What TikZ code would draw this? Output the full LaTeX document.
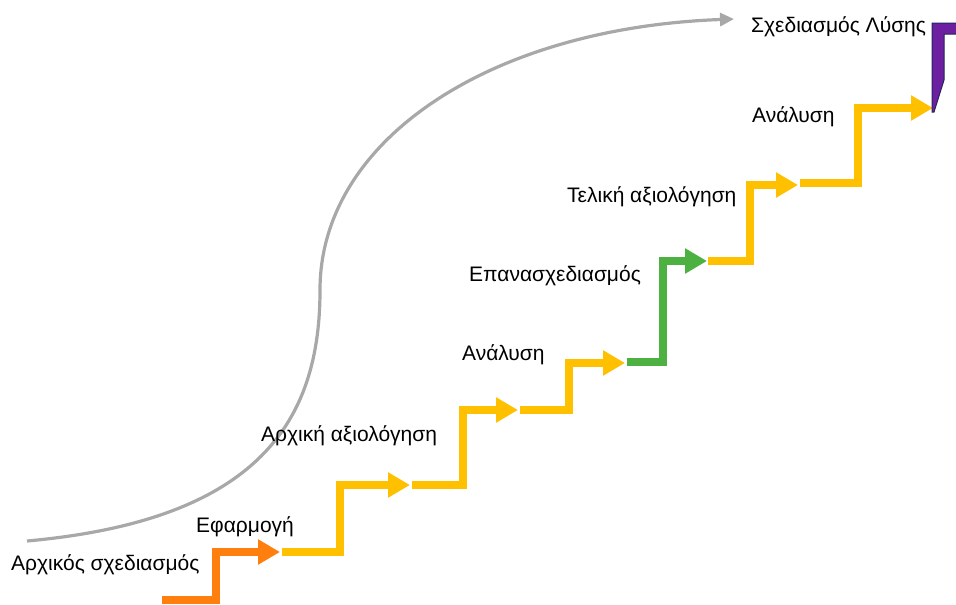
\documentclass[tikz,border=0pt]{standalone}
\usepackage{fontspec}
\setmainfont{Liberation Sans}
\usetikzlibrary{arrows.meta}
\definecolor{stepOrange}{HTML}{FF7F0E}
\definecolor{stepYellow}{HTML}{FFC000}
\definecolor{stepGreen}{HTML}{4CB140}
\definecolor{stepPurple}{HTML}{6C1FA0}
\definecolor{purpleEdge}{HTML}{26245E}
\definecolor{curveGray}{HTML}{A8A8A8}
\tikzset{
  stair/.style={line width=8.5pt, -{Triangle[length=22pt,width=24pt]}},
  label/.style={anchor=base west, inner sep=0pt, font=\fontsize{21pt}{25pt}\selectfont},
}
\begin{document}
\begin{tikzpicture}[x=1pt,y=-1pt]
\useasboundingbox (0,0) rectangle (956,605);

% joints between consecutive steps (start of a step, its corner, its tip)
\coordinate (p0) at (162,600);
\coordinate (c1) at (216,552); \coordinate (t1) at (280,552);
\coordinate (p1) at (282,552);
\coordinate (c2) at (340,485); \coordinate (t2) at (410,485);
\coordinate (p2) at (412,485);
\coordinate (c3) at (463,410); \coordinate (t3) at (518,410);
\coordinate (p3) at (520,410);
\coordinate (c4) at (569,363); \coordinate (t4) at (625,363);
\coordinate (p4) at (627,362);
\coordinate (c5) at (663,261); \coordinate (t5) at (707,261);
\coordinate (p5) at (708,261);
\coordinate (c6) at (750,185); \coordinate (t6) at (798,185);
\coordinate (p6) at (800,183);
\coordinate (c7) at (858,108); \coordinate (t7) at (933,108);

% staircase
\draw[stair, stepOrange] (p0) -| (c1) -- (t1);
\draw[stair, stepYellow] (p1) -| (c2) -- (t2);
\draw[stair, stepYellow] (p2) -| (c3) -- (t3);
\draw[stair, stepYellow] (p3) -| (c4) -- (t4);
\draw[stair, stepGreen]  (p4) -| (c5) -- (t5);
\draw[stair, stepYellow] (p5) -| (c6) -- (t6);
\draw[stair, stepYellow] (p6) -| (c7) -- (t7);

% final step
\fill[stepPurple, draw=purpleEdge, line width=1pt]
  (932,23) -- (957,23) -- (957,34) -- (944,34) -- (944,80) -- (934,112) -- (932,112) -- cycle;

% overall progress curve
\coordinate (g0) at (27,541);
\coordinate (gm) at (320,290);
\coordinate (g1) at (734,19);
\draw[curveGray, line width=3.2pt, -{Triangle[length=14pt,width=13pt]}]
  (g0) .. controls (260,520) and (320,420) .. (gm)
       .. controls (320,140) and (490,28) .. (g1);

% step labels
\node[label] (l1) at (11,570) {Αρχικός σχεδιασμός};
\node[label] (l2) at (196,532) {Εφαρμογή};
\node[label] (l3) at (261,441) {Αρχική αξιολόγηση};
\node[label] (l4) at (462,360) {Ανάλυση};
\node[label] (l5) at (469,281) {Επανασχεδιασμός};
\node[label] (l6) at (567,202) {Τελική αξιολόγηση};
\node[label] (l7) at (752,122) {Ανάλυση};
\node[label] (l8) at (751,32) {Σχεδιασμός Λύσης};
\end{tikzpicture}
\end{document}
